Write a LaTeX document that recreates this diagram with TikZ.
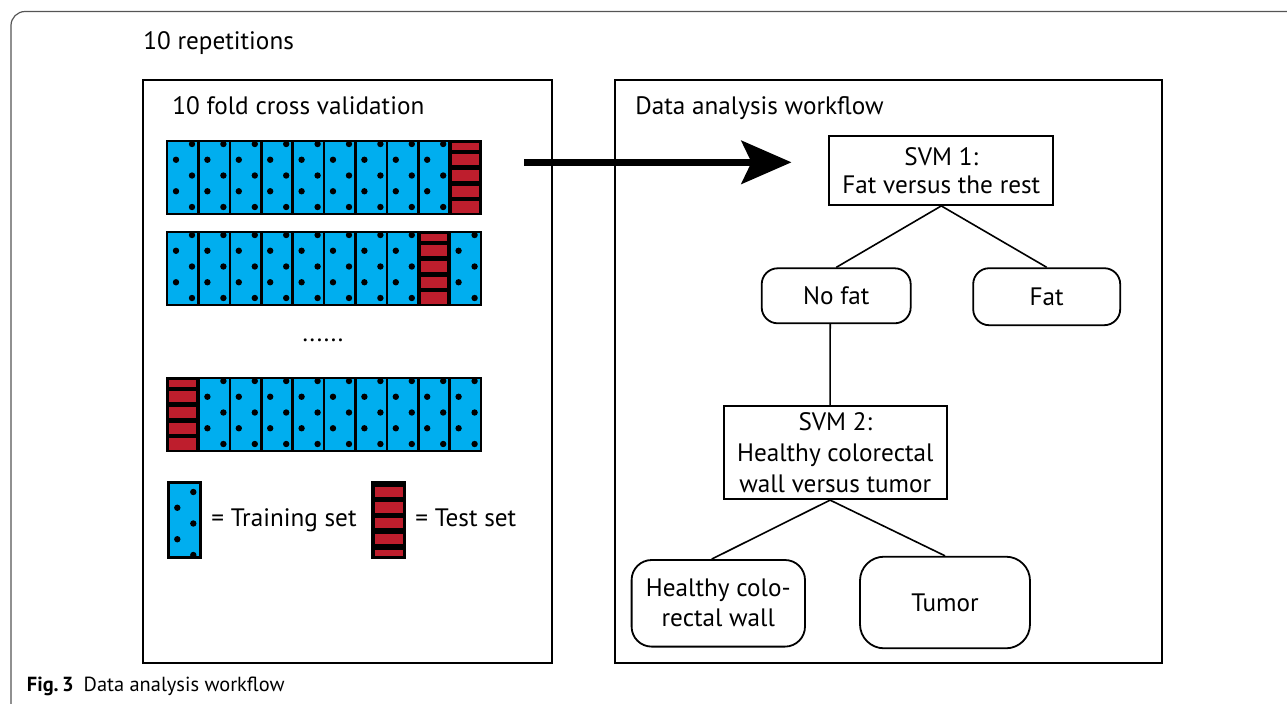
\documentclass[tikz,border=0pt]{standalone}
\usepackage{fontspec}
\setmainfont{PT Sans}
\usetikzlibrary{arrows.meta}
\definecolor{trainblue}{HTML}{00AEEF}
\definecolor{testred}{HTML}{BE1E2D}
\definecolor{framegray}{HTML}{555555}
\newcommand{\myBlueCell}[5]{%
  \fill[trainblue] (#1,#2) rectangle (#3,#4);
  \begin{scope}
    \clip (#1,#2) rectangle (#3,#4);
    \foreach \k in {0,...,4}{
      \pgfmathsetmacro{\dy}{#2+#5+\k*15.75}
      \pgfmathsetmacro{\dx}{ifthenelse(mod(\k,2)==0,#1+25,#1+9)}
      \fill[black] (\dx,\dy) circle[radius=1.6pt];
    }
  \end{scope}}
\newcommand{\myRedCell}[5]{%
  \fill[black] (#1,#2) rectangle (#3,#4);
  \begin{scope}
    \clip (#1,#2) rectangle (#3,#4);
    \foreach \a/\b in {#5}{
      \fill[testred] (#1+2.3,#2+\a) rectangle (#3-2.3,#2+\b);
    }
  \end{scope}}
\tikzset{
  lbl/.style={inner sep=0pt, font=\fontsize{12.6pt}{15pt}\selectfont},
  sqbox/.style={draw, line width=0.9pt, align=center, inner sep=0pt, font=\fontsize{12.6pt}{14pt}\selectfont},
  rbox/.style={draw, line width=0.9pt, align=center, inner sep=0pt, rounded corners=8pt, font=\fontsize{12.6pt}{15pt}\selectfont},
  conn/.style={line width=0.8pt},
  panel/.style={draw, line width=1pt},
}
\begin{document}
\begin{tikzpicture}[x=0.5pt,y=-0.5pt]
\useasboundingbox (0,0) rectangle (1287,703);
% outer page frame
\draw[framegray, line width=0.6pt, rounded corners=7pt] (11,710) -- (11,11.5) -- (1295,11.5);
% panels
\draw[panel] (143,80) rectangle (552,663);
\draw[panel] (615,80) rectangle (1162,663);
\node[lbl, anchor=base west] (rep) at (143,49.5) {10 repetitions};
\node[lbl, anchor=base west] (cvtitle) at (172,114) {10 fold cross validation};
\node[lbl, anchor=base west] (wftitle) at (635,114) {Data analysis workflow};
% bars
\foreach \top/\red in {141/9, 232/8, 378/0}{
  \pgfmathsetmacro{\bot}{\top+73}
  \foreach \j in {0,...,9}{
    \pgfmathsetmacro{\cl}{167+\j*31.4}
    \pgfmathsetmacro{\cr}{167+(\j+1)*31.4}
    \ifnum\j=\red
      \myRedCell{\cl}{\top}{\cr}{\bot}{1.7/8.5, 13/24.3, 28.8/40.2, 44.5/55.8, 60.3/71.5}
    \else
      \myBlueCell{\cl}{\top}{\cr}{\bot}{3}
    \fi
  }
  \foreach \j in {1,...,9}{
    \draw[line width=1.3pt] (167+\j*31.4,\top) -- (167+\j*31.4,\bot);
  }
  \draw[line width=1.3pt] (167,\top) rectangle (481,\bot);
}
\node[lbl] (dots) at (323,340) {......};
% legend
\myBlueCell{168.3}{482.7}{200.7}{557.3}{9.3}
\draw[line width=1.3pt] (168.3,482.7) rectangle (200.7,557.3);
\myRedCell{372.7}{482.7}{405}{557.3}{4.6/14.6, 19.6/30, 35.6/45.6, 51.3/61.3, 67.3/80}
\draw[line width=1.3pt] (372.7,482.7) rectangle (405,557.3);
\node[lbl, anchor=base west] (trainlbl) at (211,526.5) {= Training set};
\node[lbl, anchor=base west] (testlbl) at (415,526.5) {= Test set};
% arrow
\coordinate (arrstart) at (524,162.3);
\coordinate (arrend) at (791.5,162.3);
\draw[line width=3.6pt, -{Stealth[length=25pt,width=21.5pt,inset=5pt]}] (arrstart) -- (arrend);
% workflow nodes
\node[sqbox, minimum width=112pt, minimum height=34.5pt] (svm1) at (941.3,170.5) {SVM 1:\\Fat versus the rest};
\node[rbox, minimum width=74.5pt, minimum height=27.5pt] (nofat) at (836.2,295.8) {No fat};
\node[rbox, minimum width=73.5pt, minimum height=28.5pt] (fat) at (1046.7,296.7) {Fat};
\node[sqbox, minimum width=111.3pt, minimum height=46.7pt, font=\fontsize{12.6pt}{15.5pt}\selectfont] (svm2) at (835.3,452.5) {SVM 2:\\Healthy colorectal\\wall versus tumor};
\node[rbox, rounded corners=10pt, minimum width=86.7pt, minimum height=43.3pt] (healthy) at (718.3,603.3) {Healthy colo-\\rectal wall};
\node[rbox, rounded corners=12pt, minimum width=85pt, minimum height=45.8pt] (tumor) at (945,602.5) {Tumor};
\draw[conn] (svm1.south) -- (nofat.north);
\draw[conn] (svm1.south) -- (fat.north);
\draw[conn] ([xshift=-3pt]nofat.south) -- ([xshift=-2.6pt]svm2.north);
\draw[conn] ([xshift=-2.6pt]svm2.south) -- ([xshift=-3.3pt]healthy.north);
\draw[conn] ([xshift=-2.6pt]svm2.south) -- (tumor.north);
% caption
\node[inner sep=0pt, anchor=base west, font=\fontsize{10.2pt}{12pt}\selectfont] (caption) at (26.5,691.5) {\textbf{Fig.\,3}\hspace{5pt}Data analysis workflow};
\end{tikzpicture}
\end{document}
